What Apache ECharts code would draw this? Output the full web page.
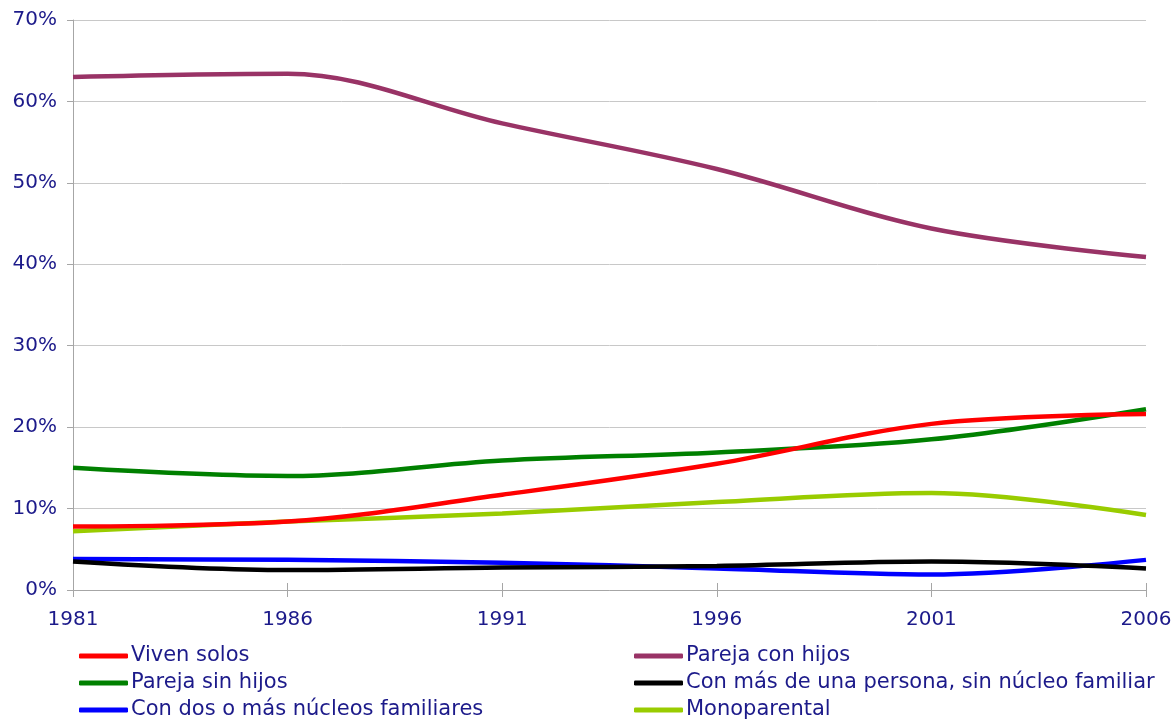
<!DOCTYPE html>
<html>
<head>
<meta charset="utf-8">
<script src="https://cdn.jsdelivr.net/npm/echarts@6/dist/echarts.min.js"></script>
<style>
html,body{margin:0;padding:0;background:#fff;}
#chart{width:1175px;height:719px;}
</style>
</head>
<body>
<div id="chart"></div>
<script>
var years = ['1981', '1986', '1991', '1996', '2001', '2006'];
var vivenSolos = [7.8, 8.4, 11.7, 15.5, 20.4, 21.6];
var parejaConHijos = [63.0, 63.4, 57.3, 51.7, 44.4, 40.9];
var parejaSinHijos = [15.0, 14.0, 15.9, 16.9, 18.5, 22.2];
var masDeUnaPersona = [3.5, 2.45, 2.75, 2.95, 3.5, 2.65];
var dosNucleos = [3.8, 3.7, 3.35, 2.65, 1.9, 3.7];
var monoparental = [7.2, 8.4, 9.4, 10.8, 11.9, 9.2];
var yTicks = [0, 10, 20, 30, 40, 50, 60, 70];

var names = ['Viven solos', 'Pareja con hijos', 'Pareja sin hijos',
  'Con más de una persona, sin núcleo familiar', 'Con dos o más núcleos familiares', 'Monoparental'];
var colors = ['#FF0000', '#993366', '#008000', '#000000', '#0000FF', '#99CC00'];
var values = [vivenSolos, parejaConHijos, parejaSinHijos, masDeUnaPersona, dosNucleos, monoparental];

var navy = '#1c1a8a';
var axisGray = '#a6a6a6';
var font = 'DejaVu Sans';

var chart = echarts.init(document.getElementById('chart'));

var series = names.map(function (n, i) {
  return {
    name: n,
    type: 'line',
    data: values[i],
    smooth: 0.35,
    showSymbol: false,
    symbol: 'none',
    lineStyle: { color: colors[i], width: 4.5 },
    itemStyle: { color: colors[i] },
    z: 10 - i
  };
});

var legendLeft = [79, 634];
var legendRowCenter = [656, 683, 710];
var legends = names.map(function (n, i) {
  var col = i % 2, row = Math.floor(i / 2);
  return {
    orient: 'horizontal',
    left: legendLeft[col],
    top: legendRowCenter[row] - 10.5,
    itemWidth: 49,
    itemHeight: 5,
    icon: 'roundRect',
    padding: 0,
    data: [n],
    textStyle: { fontFamily: font, fontSize: 21, color: navy, lineHeight: 21, padding: [0, 0, 0, -2] }
  };
});

chart.setOption({
  animation: false,
  backgroundColor: '#ffffff',
  color: colors,
  grid: { left: 73, right: 29, top: 20, bottom: 129, containLabel: false, outerBoundsMode: 'none' },
  legend: legends,
  xAxis: [{
    type: 'category',
    data: years,
    boundaryGap: false,
    axisLine: { show: true, lineStyle: { color: axisGray, width: 1 } },
    axisTick: { show: true, interval: 0, length: 7, lineStyle: { color: axisGray } },
    axisLabel: { interval: 0, margin: 20, color: navy, fontFamily: font, fontSize: 20 },
    splitLine: { show: false }
  }, {
    type: 'category',
    data: years,
    boundaryGap: false,
    position: 'bottom',
    axisLine: { show: false },
    axisTick: { show: true, inside: true, interval: 0, length: 7, lineStyle: { color: axisGray } },
    axisLabel: { show: false },
    splitLine: { show: false }
  }],
  yAxis: {
    type: 'value',
    min: yTicks[0],
    max: yTicks[yTicks.length - 1],
    interval: 10,
    axisLine: { show: true, lineStyle: { color: axisGray, width: 1 } },
    axisTick: { show: true, length: 6, lineStyle: { color: axisGray } },
    axisLabel: { margin: 16, color: navy, fontFamily: font, fontSize: 20, formatter: '{value}%' },
    splitLine: { show: true, lineStyle: { color: '#c8c8c8', width: 1 } }
  },
  series: series
});
</script>
</body>
</html>
